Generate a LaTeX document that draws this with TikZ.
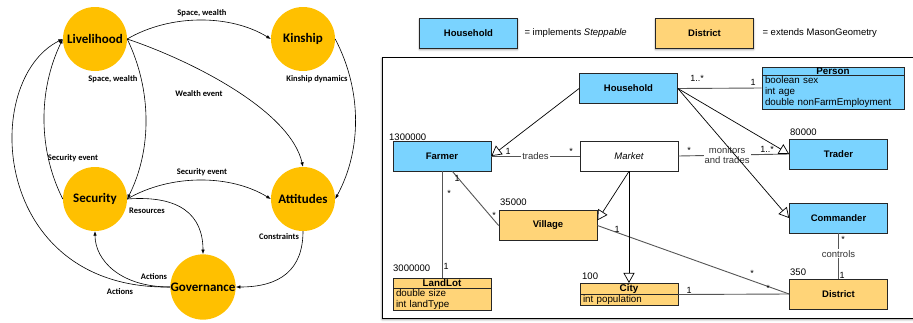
\documentclass[tikz,border=0pt]{standalone}
\usepackage{fontspec}
\setmainfont{Liberation Sans}
\newfontfamily\calibri{Carlito}
\usetikzlibrary{arrows.meta,shapes.multipart,shadows.blur}
\definecolor{ouro}{RGB}{255,192,0}
\definecolor{azul}{RGB}{122,211,255}
\definecolor{laranja}{RGB}{255,212,120}
\definecolor{cinza}{RGB}{85,85,85}
\tikzset{
  circulo/.style={circle, fill=ouro, minimum size=64pt, inner sep=0pt,
    font=\calibri\bfseries\fontsize{13}{15}\selectfont},
  seta/.style={-{Latex[length=4.5pt,width=3.5pt]}, line width=0.6pt},
  rot/.style={font=\calibri\bfseries\fontsize{8.5}{10}\selectfont, inner sep=1pt},
  classe/.style={rectangle, draw=black!85, line width=0.8pt, minimum width=98pt,
    minimum height=30pt, font=\bfseries\fontsize{9.5}{11}\selectfont},
  classe2/.style={rectangle split, rectangle split parts=2, draw=black!85,
    line width=0.8pt, inner xsep=3pt, inner ysep=0.6pt, align=left,
    font=\fontsize{9.8}{11}\selectfont},
  sombra/.style={blur shadow={shadow xshift=0pt, shadow yshift=-1.5pt,
    shadow blur radius=2pt, shadow opacity=45}},
  assoc/.style={draw=cinza, line width=0.9pt},
  heranca/.style={draw=black, line width=0.7pt,
    -{Triangle[open, length=10pt, width=11pt]}},
  mult/.style={font=\fontsize{9}{10}\selectfont, inner sep=0pt},
  rotulo/.style={fill=white, inner sep=1pt, text=black!80,
    font=\fontsize{9.5}{10.5}\selectfont, align=center},
}
\newcommand{\cabeca}[1]{\hfill\textbf{#1}\hfill\null}
\begin{document}
\begin{tikzpicture}[x=1pt,y=-1pt]
\useasboundingbox (0,0) rectangle (913,322);

% diagrama causal
\node[circulo] (liv) at (95,39) {Livelihood};
\node[circulo] (kin) at (303,39) {Kinship};
\node[circulo] (sec) at (95,199) {Security};
\node[circulo] (att) at (303,199) {Attitudes};
\node[circulo] (gov) at (203,287) {Governance};

\draw[seta] (liv.east) .. controls (170,14) and (230,14) .. (kin.west);
\draw[seta] (liv.east) .. controls (152,90) and (152,150) .. (sec.east);
\draw[seta] (liv.east) .. controls (190,60) and (290,110) .. (att.north);
\draw[seta] (kin.east) .. controls (362,90) and (362,150) .. (att.east);
\draw[seta] (sec.west) .. controls (38,150) and (38,90) .. (liv.west);
\draw[seta] (sec.east) .. controls (170,174) and (230,174) .. (att.west);
\draw[seta] (sec.east) .. controls (180,195) and (203,215) .. (gov.north);
\draw[seta] (att.south) .. controls (303,270) and (280,287) .. (gov.east);
\draw[seta] (gov.west) .. controls (120,287) and (95,260) .. (sec.south);
\draw[seta] (gov.west) .. controls (-10,290) and (-20,80) .. (liv.west);

% rótulos das setas
\foreach \nome/\x/\y/\txt in {r1/202/13/{Space, wealth}, r2/113/79/{Space, wealth},
  r3/199/94/{Wealth event}, r4/317/79/{Kinship dynamics},
  r5/73/158/{Security event}, r6/202/172/{Security event},
  r7/147/211/{Resources}, r8/279/237/{Constraints},
  r9/154/277/{Actions}, r10/120/292/{Actions}} {
  \node[rot] (\nome) at (\x,\y) {\txt};
}

% legenda
\node[classe, fill=azul, sombra] (legHH) at (468.5,33) {Household};
\node[anchor=west, font=\fontsize{9.5}{11}\selectfont] (legTxt1) at (521,33) {= implements \textit{Steppable}};
\node[classe, fill=laranja, sombra] (legDist) at (704.5,33) {District};
\node[anchor=west, font=\fontsize{9.5}{11}\selectfont] (legTxt2) at (759,33) {= extends MasonGeometry};

% moldura
\draw[line width=0.9pt, fill=white, sombra] (382,57) rectangle (925,318);

% classes
\node[classe, fill=azul] (hh) at (628.5,88.5) {Household};
\node[classe, fill=azul] (farmer) at (442,156) {Farmer};
\node[classe, fill=white, font=\itshape\fontsize{9.5}{11}\selectfont] (market) at (629,156) {Market};
\node[classe, fill=azul] (trader) at (838.5,154) {Trader};
\node[classe, fill=azul] (commander) at (838.5,218) {Commander};
\node[classe, fill=laranja] (village) at (548,225.5) {Village};
\node[classe, fill=laranja] (district) at (838.5,294) {District};
\node[classe2, fill=azul, text width=136pt] (person) at (833,88)
  {\cabeca{Person}\nodepart{second}boolean sex\\int age\\double nonFarmEmployment};
\node[classe2, fill=laranja, text width=92pt] (landlot) at (442,294.5)
  {\cabeca{LandLot}\nodepart{second}double size\\int landType};
\node[classe2, fill=laranja, text width=92pt] (city) at (629,294.5)
  {\cabeca{City}\nodepart{second}int population};

% quantidades
\foreach \nome/\x/\y/\txt in {qFarmer/389/137/1300000, qTrader/790/132/80000,
  qVillage/500/202/35000, qLand/393/268/3000000, qCity/582/276/100, qDist/790/272/350} {
  \node[anchor=west, inner sep=0pt, font=\fontsize{9.5}{11}\selectfont] (\nome) at (\x,\y) {\txt};
}

% associações
\draw[assoc] (hh.east) -- (person.west);
\draw[assoc] (farmer.east) -- node[rotulo] (trades) {trades} (market.west);
\draw[assoc] (market.east) -- node[rotulo, pos=.44] (monitors) {monitors\\and trades} (trader.west);
\draw[assoc] (farmer.south) -- (landlot.north);
\draw[assoc] (farmer.-56) -- (village.west);
\draw[assoc] (village.east) -- (district.west);
\draw[assoc] (city.east) -- (district.west);
\draw[assoc] (commander.south) -- node[rotulo, pos=.45] (controls) {controls} (district.north);

% herança
\draw[heranca] (hh.west) -- (farmer.east);
\draw[heranca] (hh.east) -- (trader.west);
\draw[heranca] (hh.east) -- (commander.west);
\draw[heranca] (market.south) -- (village.6);
\draw[heranca] (market.south) -- (city.north);

% multiplicidades
\foreach \nome/\x/\y/\txt in {m1/508/151/1, m2/571/151/*, m3/689/150/*, m4/767/149/1..*,
  m5/697/78/1..*, m6/753/82/1, m7/457/178/1, m8/449/193/*, m9/494/215/*,
  m10/446/266/1, m11/617/229/1, m12/752/273/*, m13/689/290/1, m14/768/288/*,
  m15/843/239/*, m16/842/275/1} {
  \node[mult] (\nome) at (\x,\y) {\txt};
}

\end{tikzpicture}
\end{document}
